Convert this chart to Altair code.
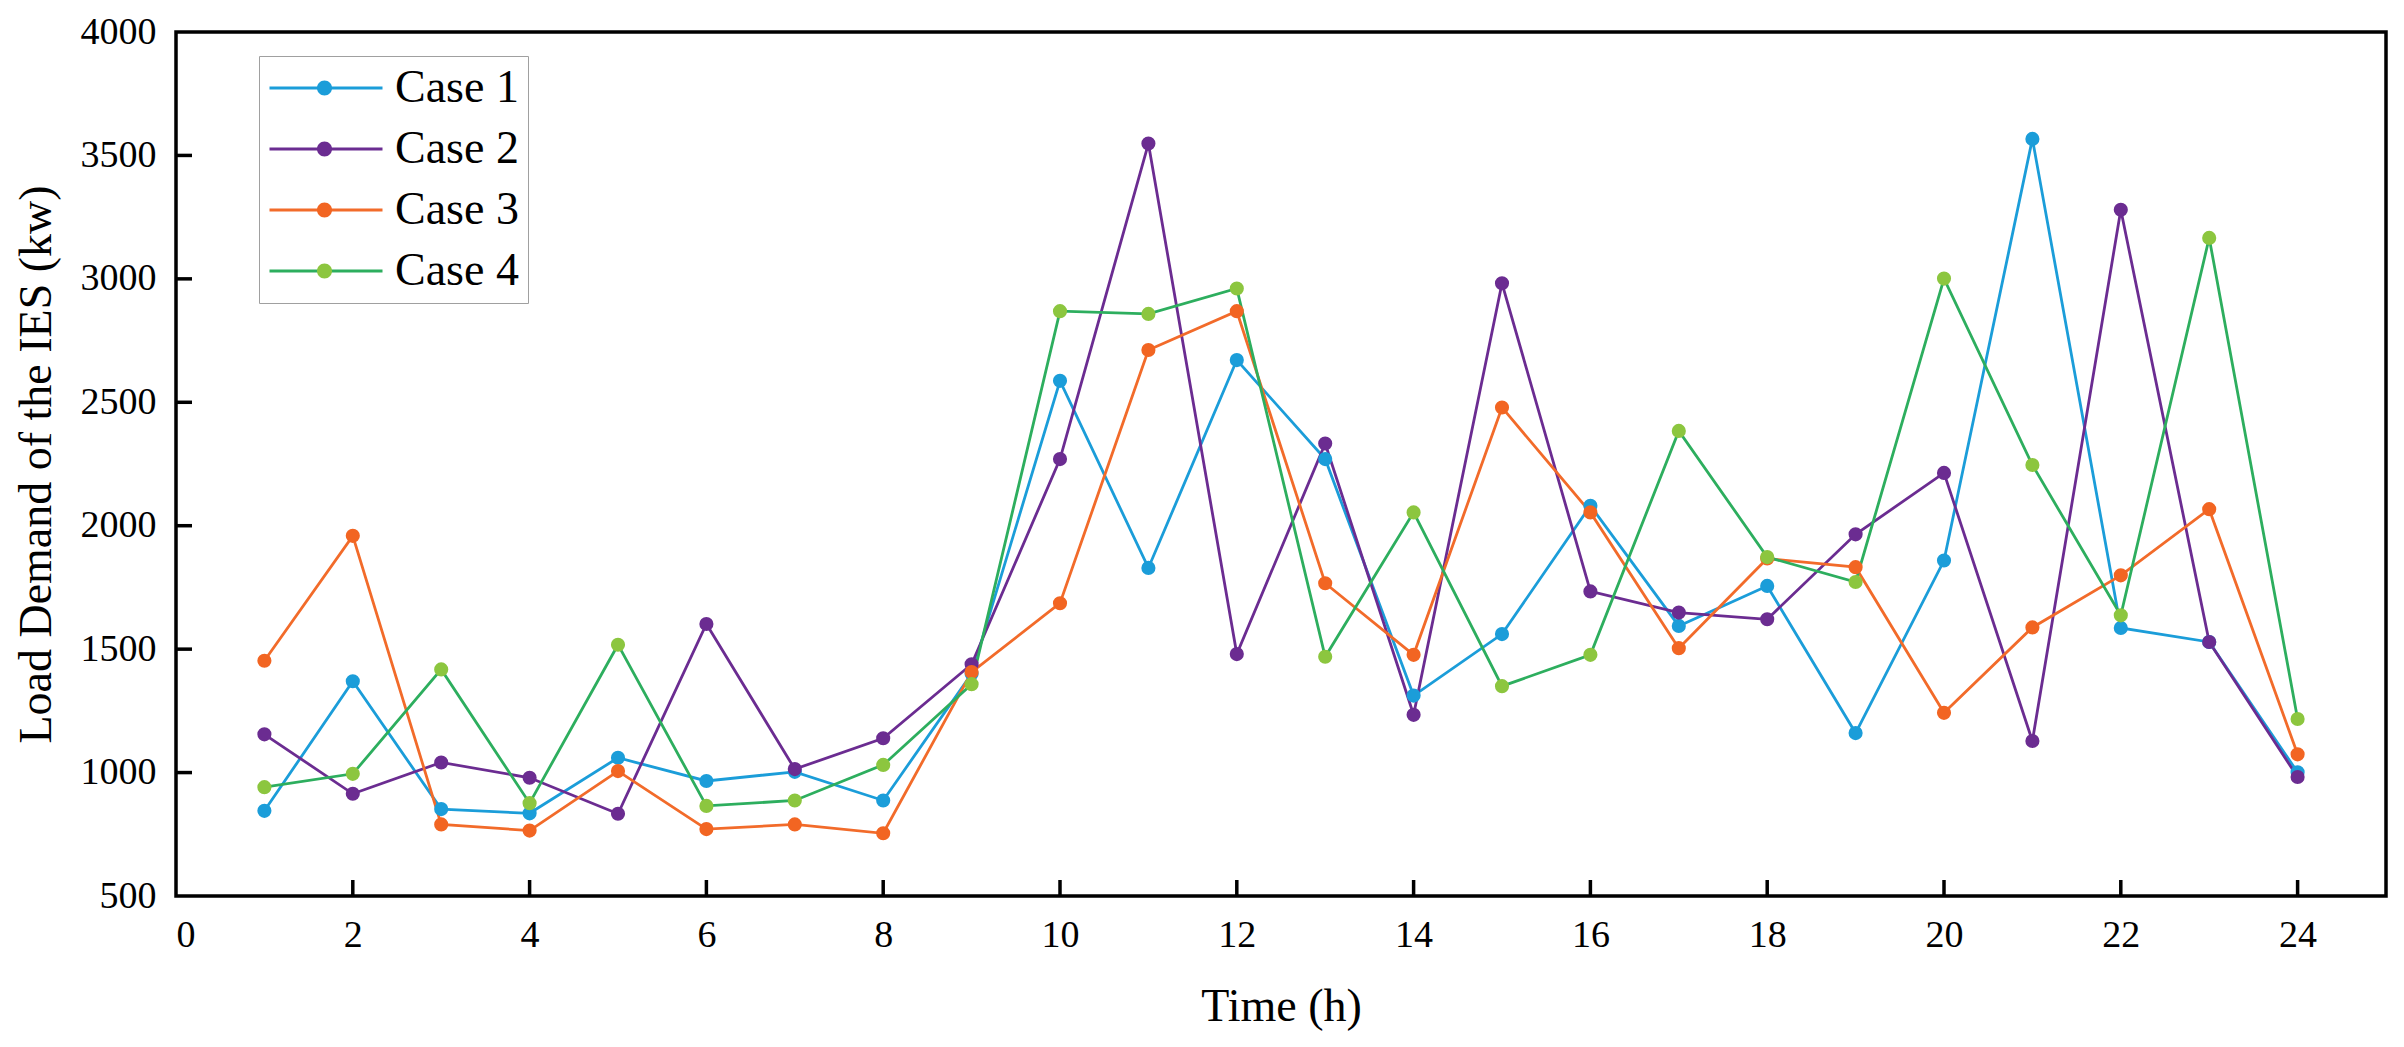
import altair as alt
import pandas as pd

hours = list(range(1, 25))
case1 = [845, 1370, 852, 835, 1060, 966, 1003, 887, 1400, 2587, 1829, 2671,
         2270, 1312, 1561, 2081, 1594, 1756, 1160, 1859, 3567, 1586, 1529, 1001]
case2 = [1155, 914, 1041, 979, 833, 1602, 1014, 1139, 1439, 2270, 3548, 1480,
         2333, 1234, 2982, 1734, 1648, 1621, 1965, 2214, 1128, 3280, 1529, 982]
case3 = [1453, 1959, 790, 765, 1006, 771, 790, 754, 1407, 1686, 2712, 2869,
         1767, 1477, 2479, 2054, 1504, 1867, 1832, 1242, 1588, 1799, 2067, 1074]
case4 = [941, 995, 1418, 876, 1518, 865, 887, 1031, 1358, 2869, 2858, 2961,
         1469, 2054, 1350, 1477, 2384, 1873, 1772, 3001, 2246, 1637, 3166, 1217]

series_names = ["Case 1", "Case 2", "Case 3", "Case 4"]
line_colors = ["#1B9DD9", "#6B2C91", "#F26B2A", "#2DAE5E"]
point_colors = ["#1B9DD9", "#6B2C91", "#F26522", "#8CC63F"]

x_ticks = list(range(0, 25, 2))
y_ticks = [500, 1000, 1500, 2000, 2500, 3000, 3500, 4000]

rows = []
for name, vals in zip(series_names, [case1, case2, case3, case4]):
    for h, v in zip(hours, vals):
        rows.append({"hour": h, "load": v, "case": name})
df = pd.DataFrame(rows)

W, H = 2210, 864
FONT = "Liberation Serif"
TICK_LEN = 16

xscale = alt.Scale(domain=[0, 25], nice=False, zero=False)
yscale = alt.Scale(domain=[500, 4000], nice=False, zero=False)
x_axis = alt.Axis(title="Time (h)", values=x_ticks, format="d")
y_axis = alt.Axis(title="Load Demand of the IES (kw)", values=y_ticks, format="d")

x_enc = alt.X("hour:Q", scale=xscale, axis=x_axis)
y_enc = alt.Y("load:Q", scale=yscale, axis=y_axis)

common_legend = dict(
    orient="none", legendX=83, legendY=24, title=None,
    symbolSize=12769, labelFont=FONT, labelFontSize=46, labelColor="black",
    rowPadding=15, padding=9, labelOffset=11, symbolOffset=0, clipHeight=46,
)

lines = alt.Chart(df).mark_line(strokeWidth=2.8).encode(
    x=x_enc, y=y_enc,
    color=alt.Color("case:N",
                    scale=alt.Scale(domain=series_names, range=line_colors),
                    legend=alt.Legend(symbolType="stroke", symbolStrokeWidth=3,
                                      strokeColor="#a0a0a0", fillColor="white",
                                      **common_legend)),
    order="hour:Q",
)

circle_path = "M -0.133 0 A 0.133 0.133 0 1 1 0.133 0 A 0.133 0.133 0 1 1 -0.133 0 Z"
points = alt.Chart(df).mark_point(filled=True, size=200, opacity=1).encode(
    x=x_enc, y=y_enc,
    color=alt.Color("case:N",
                    scale=alt.Scale(domain=series_names, range=point_colors),
                    legend=alt.Legend(symbolType=circle_path, symbolStrokeWidth=0,
                                      labelOpacity=0, **common_legend)),
)

xt = pd.DataFrame({"hour": x_ticks[1:]})
yt = pd.DataFrame({"load": y_ticks[1:-1]})
xtick_layer = alt.Chart(xt).mark_rule(color="black", strokeWidth=3.5).encode(
    x=x_enc,
    y=alt.value(H), y2=alt.value(H - TICK_LEN),
)
ytick_layer = alt.Chart(yt).mark_rule(color="black", strokeWidth=3.5).encode(
    y=y_enc,
    x=alt.value(0), x2=alt.value(TICK_LEN),
)

chart = alt.layer(lines, points, xtick_layer, ytick_layer).resolve_scale(
    color="independent"
).properties(
    width=W, height=H,
    padding={"left": 5, "top": 5, "right": 2, "bottom": 5},
).configure_view(
    stroke="black", strokeWidth=3.5
).configure_axis(
    grid=False, ticks=False, domain=False,
    labelFont=FONT, labelFontSize=38, labelColor="black",
    titleFont=FONT, titleFontSize=46, titleFontWeight="normal", titleColor="black",
).configure_axisX(
    labelPadding=20, titlePadding=30,
).configure_axisY(
    labelPadding=20, titlePadding=20,
)

chart.save("out.html", embed_options={"renderer": "svg", "actions": False})
